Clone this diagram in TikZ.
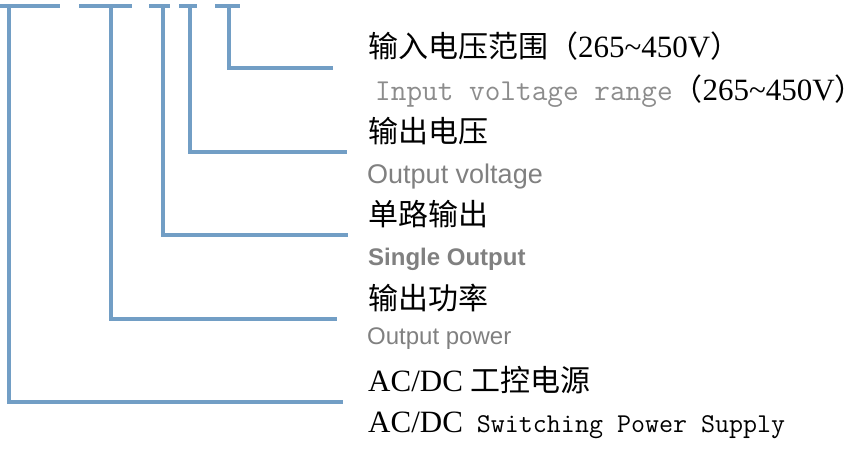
\documentclass[tikz,border=0pt]{standalone}
\usepackage{fontspec}
\setmainfont{Liberation Serif}
\setsansfont{Liberation Sans}
\newfontfamily\cjk{Noto Sans CJK SC}
\usepackage{xcolor}
\usetikzlibrary{positioning}
\definecolor{leadblue}{RGB}{114,158,197}
\definecolor{txtgray}{RGB}{128,128,128}
\definecolor{monogray}{RGB}{140,140,140}

\begin{document}
\begin{tikzpicture}[x=1pt, y=-1pt,
  lead/.style={draw=leadblue, line width=3.4pt},
  lbl/.style={inner sep=0pt, anchor=base west, font=\fontsize{31}{36}\selectfont},
  sub/.style={inner sep=0pt, anchor=base west, text=txtgray, font=\sffamily\fontsize{27}{32}\selectfont}]
\useasboundingbox (0,0) rectangle (862,448);
% underlines of the type code
\coordinate (series) at (9,6);
\coordinate (power) at (111,6);
\coordinate (outs) at (163,6);
\coordinate (volt) at (190,6);
\coordinate (range) at (229,6);
\draw[lead] (0,6) -- (60,6);
\draw[lead] (79,6) -- (132,6);
\draw[lead] (149,6) -- (170,6);
\draw[lead] (179,6) -- (197,6);
\draw[lead] (215,6) -- (240,6);
% labels
\node[lbl] (inrange) at (368,57) {{\cjk\fontsize{30}{36}\selectfont 输入电压范围（}265\textasciitilde450V{\cjk\fontsize{30}{36}\selectfont ）}};
\node[lbl] (inrangeEN) at (375,100) {{\ttfamily\color{monogray}\fontsize{30.4}{34}\selectfont Input voltage range}{\cjk\fontsize{30}{36}\selectfont （}265\textasciitilde450V{\cjk\fontsize{30}{36}\selectfont ）}};
\node[lbl, font=\cjk\fontsize{30}{36}\selectfont] (outvolt) at (368,142) {输出电压};
\node[sub] (outvoltEN) at (367,183) {Output voltage};
\node[lbl, font=\cjk\fontsize{30}{36}\selectfont] (single) at (368,225) {单路输出};
\node[sub, font=\sffamily\bfseries\fontsize{24}{28}\selectfont] (singleEN) at (368,265) {Single Output};
\node[lbl, font=\cjk\fontsize{30}{36}\selectfont] (outpow) at (368,309) {输出功率};
\node[sub, font=\sffamily\fontsize{24}{28}\selectfont] (outpowEN) at (367,344) {Output power};
\node[lbl] (acdc) at (368,391) {AC/DC {\cjk\fontsize{30}{36}\selectfont 工控电源}};
\node[lbl] (acdcEN) at (368,432) {AC/DC\hspace{14pt}{\ttfamily\fontsize{27.2}{30}\selectfont Switching Power Supply}};
% leader lines
\coordinate (rangeEnd) at (333,68);
\coordinate (voltEnd) at (347,152);
\coordinate (outsEnd) at (348,235);
\coordinate (powerEnd) at (337,319);
\coordinate (seriesEnd) at (343,402);
\draw[lead] (range) |- (rangeEnd);
\draw[lead] (volt) |- (voltEnd);
\draw[lead] (outs) |- (outsEnd);
\draw[lead] (power) |- (powerEnd);
\draw[lead] (series) |- (seriesEnd);
\end{tikzpicture}
\end{document}
